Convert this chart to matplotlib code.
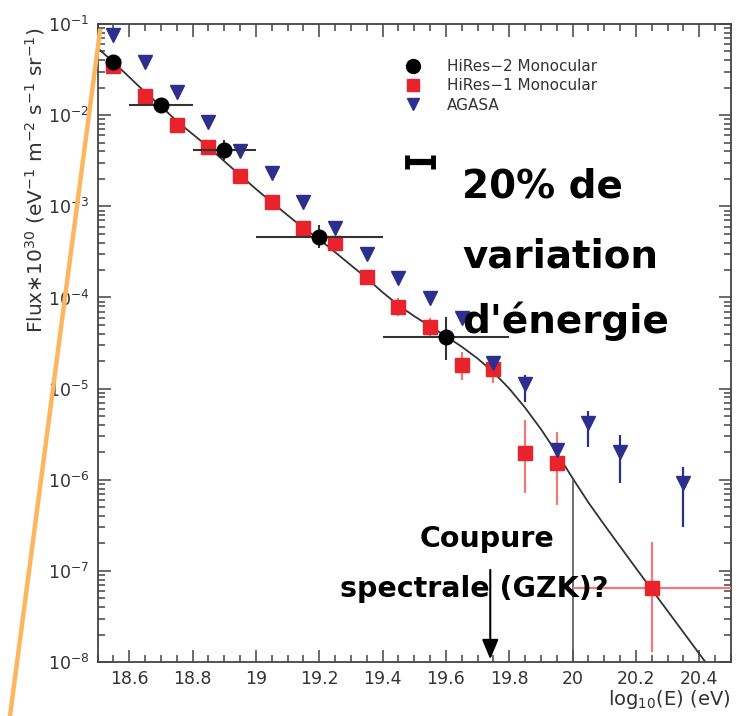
import matplotlib
matplotlib.use('Agg')
import matplotlib.pyplot as plt
import numpy as np
from matplotlib.lines import Line2D
from matplotlib.ticker import MultipleLocator, FixedLocator, FixedFormatter

# ---- data ----
hires2_x = [18.55, 18.70, 18.90, 19.20, 19.60]
hires2_flux = [3.83e-2, 1.29e-2, 4.14e-3, 4.59e-4, 3.66e-5]
hires2_xlo = [18.55, 18.60, 18.80, 19.00, 19.40]
hires2_xhi = [18.55, 18.80, 19.00, 19.40, 19.80]
hires2_lo = [3.83e-2, 1.29e-2, 3.21e-3, 3.47e-4, 2.05e-5]
hires2_hi = [3.83e-2, 1.29e-2, 5.33e-3, 6.22e-4, 6.08e-5]

hires1_x = [18.55, 18.65, 18.75, 18.85, 18.95, 19.05, 19.15, 19.25, 19.35,
            19.45, 19.55, 19.65, 19.75, 19.85, 19.95, 20.25]
hires1_flux = [3.46e-2, 1.62e-2, 7.78e-3, 4.47e-3, 2.15e-3, 1.11e-3, 5.77e-4,
               3.95e-4, 1.67e-4, 7.8e-5, 4.72e-5, 1.81e-5, 1.63e-5, 1.95e-6,
               1.52e-6, 6.45e-8]
hires1_lo = [3.46e-2, 1.62e-2, 7.78e-3, 4.47e-3, 2.15e-3, 1.11e-3, 5.77e-4,
             3.95e-4, 1.67e-4, 6.24e-5, 3.76e-5, 1.24e-5, 1.15e-5, 7.11e-7,
             5.25e-7, 1.28e-8]
hires1_hi = [3.46e-2, 1.62e-2, 7.78e-3, 4.47e-3, 2.15e-3, 1.11e-3, 5.77e-4,
             3.95e-4, 1.67e-4, 9.8e-5, 5.93e-5, 2.51e-5, 2.21e-5, 4.50e-6,
             3.32e-6, 2.06e-7]
hires1_xlo = [x for x in hires1_x[:-1]] + [20.00]
hires1_xhi = [x for x in hires1_x[:-1]] + [20.60]

agasa_x = [18.55, 18.65, 18.75, 18.85, 18.95, 19.05, 19.15, 19.25, 19.35,
           19.45, 19.55, 19.65, 19.75, 19.85, 19.95, 20.05, 20.15, 20.35]
agasa_flux = [7.58e-2, 3.8e-2, 1.79e-2, 8.4e-3, 4.04e-3, 2.31e-3, 1.11e-3,
              5.77e-4, 2.99e-4, 1.63e-4, 9.8e-5, 5.93e-5, 1.9e-5, 1.12e-5,
              2.11e-6, 4.17e-6, 2.0e-6, 9.2e-7]
agasa_lo = [7.58e-2, 3.8e-2, 1.79e-2, 8.4e-3, 4.04e-3, 2.31e-3, 1.11e-3,
            5.77e-4, 2.99e-4, 1.63e-4, 9.8e-5, 5.93e-5, 1.6e-5, 7.1e-6,
            2.11e-6, 2.28e-6, 9.1e-7, 3.0e-7]
agasa_hi = [7.58e-2, 3.8e-2, 1.79e-2, 8.4e-3, 4.04e-3, 2.31e-3, 1.11e-3,
            5.77e-4, 2.99e-4, 1.63e-4, 9.8e-5, 5.93e-5, 2.2e-5, 1.40e-5,
            2.11e-6, 5.65e-6, 3.09e-6, 1.37e-6]

fit_x = [18.50, 18.55, 18.60, 18.65, 18.70, 18.75, 18.80, 18.85, 18.90, 18.95,
         19.00, 19.05, 19.10, 19.15, 19.20, 19.25, 19.30, 19.35, 19.40, 19.45,
         19.50, 19.55, 19.60, 19.65, 19.70, 19.75, 19.80, 19.85, 19.90, 19.95,
         20.00, 20.05, 20.10, 20.20, 20.30, 20.43]
fit_flux = [5.46e-2, 3.83e-2, 2.62e-2, 1.79e-2, 1.26e-2, 8.61e-3, 6.21e-3,
            4.47e-3, 3.13e-3, 2.20e-3, 1.55e-3, 1.11e-3, 8.00e-4, 5.77e-4,
            4.37e-4, 3.14e-4, 2.26e-4, 1.63e-4, 1.14e-4, 8.22e-5, 6.23e-5,
            4.84e-5, 3.76e-5, 2.88e-5, 2.14e-5, 1.51e-5, 1.00e-5, 6.17e-6,
            3.59e-6, 1.97e-6, 1.04e-6, 5.62e-7, 3.20e-7, 1.07e-7, 3.63e-8,
            8.9e-9]

cut_x = 20.0
cut_flux = 1.0e-6
gzk_x = 19.74

xtick_vals = [18.6, 18.8, 19.0, 19.2, 19.4, 19.6, 19.8, 20.0, 20.2, 20.4]
xtick_labels = ['18.6', '18.8', '19', '19.2', '19.4', '19.6', '19.8', '20', '20.2', '20.4']

legend_labels = ['HiRes\u22122 Monocular', 'HiRes\u22121 Monocular', 'AGASA']

RED = '#E8232B'
RED_ERR = '#F07A7A'
BLUE = '#2B2F8E'
AXC = '#444444'

fig = plt.figure(figsize=(7.40, 7.16), dpi=100)
ax = fig.add_axes([0.1318, 0.0754, 0.856, 0.891])
ax.set_yscale('log')
ax.set_xlim(18.5, 20.5)
ax.set_ylim(1e-8, 1e-1)


def yerr(v, lo, hi):
    v, lo, hi = map(np.array, (v, lo, hi))
    return [v - lo, hi - v]


# fit curve and cut marker
ax.plot(fit_x, fit_flux, color='#333333', lw=1.3, zorder=2)
ax.plot([cut_x, cut_x], [1e-8, cut_flux], color='#555555', lw=1.2, zorder=2)

# HiRes-1 (red squares)
ax.errorbar(hires1_x, hires1_flux, yerr=yerr(hires1_flux, hires1_lo, hires1_hi),
            xerr=yerr(hires1_x, hires1_xlo, hires1_xhi),
            fmt='none', ecolor=RED_ERR, elinewidth=1.6, zorder=3)
ax.plot(hires1_x, hires1_flux, 's', color=RED, ms=9.5, mec=RED, zorder=4)

# AGASA (blue triangles)
ax.errorbar(agasa_x, agasa_flux, yerr=yerr(agasa_flux, agasa_lo, agasa_hi),
            fmt='none', ecolor=BLUE, elinewidth=1.6, zorder=3)
ax.plot(agasa_x, agasa_flux, 'v', color=BLUE, ms=10, mec=BLUE, zorder=4)

# HiRes-2 (black circles)
ax.errorbar(hires2_x, hires2_flux, yerr=yerr(hires2_flux, hires2_lo, hires2_hi),
            xerr=yerr(hires2_x, hires2_xlo, hires2_xhi),
            fmt='none', ecolor='#333333', elinewidth=1.5, zorder=5)
ax.plot(hires2_x, hires2_flux, 'o', color='black', ms=10.5, zorder=6)

# 20% energy bar symbol
ax.errorbar([19.518], [3.1e-3], xerr=[0.041], fmt='none', ecolor='black',
            elinewidth=4.5, capsize=5, capthick=3.5, zorder=6)

# ticks and spines
ax.xaxis.set_major_locator(FixedLocator(xtick_vals))
ax.xaxis.set_major_formatter(FixedFormatter(xtick_labels))
ax.xaxis.set_minor_locator(MultipleLocator(0.05))
ax.tick_params(which='both', direction='in', top=True, right=True,
               color=AXC, labelcolor='#333333', labelsize=12.5, width=1.1)
ax.tick_params(which='major', length=9, pad=6)
ax.tick_params(which='minor', length=5)
for s in ax.spines.values():
    s.set_color(AXC)
    s.set_linewidth(1.3)

# legend
handles = [Line2D([], [], ls='none', marker='o', color='black', ms=10),
           Line2D([], [], ls='none', marker='s', color=RED, ms=9),
           Line2D([], [], ls='none', marker='v', color=BLUE, ms=9)]
leg = ax.legend(handles, legend_labels, loc='upper left',
                bbox_to_anchor=(0.486, 0.945), frameon=False, fontsize=11,
                handlelength=1.0, handletextpad=1.7, labelspacing=0.28,
                borderpad=0, borderaxespad=0)
for t in leg.get_texts():
    t.set_color('#333333')

# axis labels
fig.text(35 / 740, 1 - 180 / 716,
         r'Flux$\ast$10$^{30}$ (eV$^{-1}$ m$^{-2}$ s$^{-1}$ sr$^{-1}$)',
         rotation=90, ha='center', va='center', fontsize=14.5, color='#333333')
fig.text(730 / 740, 1 - 705 / 716, r'log$_{10}$(E) (eV)', ha='right',
         va='baseline', fontsize=14, color='#333333')

# annotations
big = dict(fontsize=28, fontweight='bold', color='black', ha='left', va='baseline')
fig.text(462 / 740, 1 - 198 / 716, '20% de', **big)
fig.text(462 / 740, 1 - 267 / 716, 'variation', **big)
fig.text(462 / 740, 1 - 333 / 716, "d'énergie", **big)

ax.annotate('', xy=(gzk_x, 1e-8), xytext=(gzk_x, 1.1e-7),
            arrowprops=dict(arrowstyle='-|>,head_length=1.2,head_width=0.5',
                            color='black', lw=1.5), zorder=7)
fig.text(487 / 740, 1 - 547 / 716, 'Coupure', fontsize=20.5, fontweight='bold',
         ha='center', va='baseline')
fig.text(474 / 740, 1 - 597 / 716, 'spectrale (GZK)?', fontsize=20.5,
         fontweight='bold', ha='center', va='baseline')

# orange slanted line on the left
fig.add_artist(Line2D([100 / 740, 10 / 740], [1 - 31 / 716, 0.0],
                      color='#FDB65E', lw=3.2, transform=fig.transFigure))

fig.savefig('out.png', dpi=100, facecolor='white')
